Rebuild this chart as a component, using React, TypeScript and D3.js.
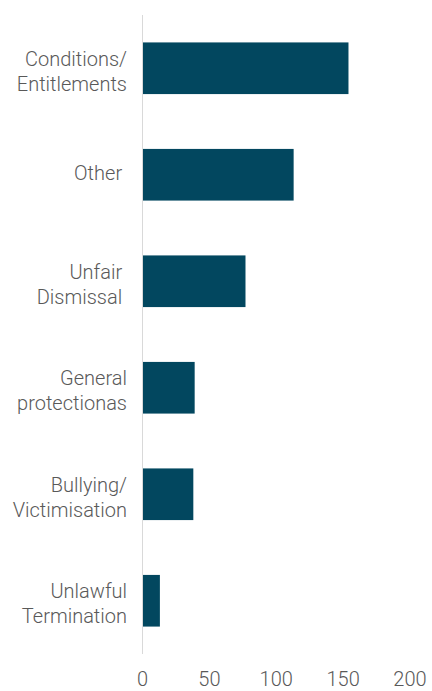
import React from "react";
import * as d3 from "d3";

const categories = [
  ["Conditions/", "Entitlements"],
  ["Other "],
  ["Unfair ", "Dismissal "],
  ["General", "protectionas"],
  ["Bullying/", "Victimisation"],
  ["Unlawful", "Termination"],
];
const values = [154, 113, 77, 39, 38, 13];
const ticks = [0, 50, 100, 150, 200];

export default function App() {
  const W = 432, H = 691;
  const ids = categories.map((_, i) => String(i));
  const y = d3.scaleBand<string>().domain(ids).range([15, 654]).paddingInner(0.515).paddingOuter(0.2575);
  const x = d3.scaleLinear().domain([0, 200]).range([142.5, 410]);
  const font = "Roboto, 'Liberation Sans', sans-serif";
  return (
    <svg width={W} height={H} style={{ position: "absolute", left: 0, top: 0 }}>
      <rect width={W} height={H} fill="#fff" />
      {values.map((v, i) => (
        <rect key={i} x={x(0)} y={y(String(i))} width={x(v) - x(0)} height={y.bandwidth()} fill="#02475F" />
      ))}
      <line x1={x(0)} x2={x(0)} y1={15} y2={654} stroke="#d9d9d9" strokeWidth={1} />
      {categories.map((lines, i) => {
        const cy = (y(String(i)) as number) + y.bandwidth() / 2;
        const lh = 25;
        const shift = lines.length > 1 ? 3 : -2;
        const start = cy - ((lines.length - 1) * lh) / 2 + shift;
        return (
          <text key={i} x={127} textAnchor="end" fill="#595959" fontFamily={font} fontWeight={300} fontSize={20} style={{ whiteSpace: "pre" }}>
            {lines.map((l, j) => (
              <tspan key={j} x={127} y={start + j * lh} dy="0.35em">{l}</tspan>
            ))}
          </text>
        );
      })}
      {ticks.map((t) => (
        <text key={t} x={x(t)} y={686} textAnchor="middle" fill="#595959" fontFamily={font} fontWeight={300} fontSize={20}>
          {t}
        </text>
      ))}
    </svg>
  );
}
